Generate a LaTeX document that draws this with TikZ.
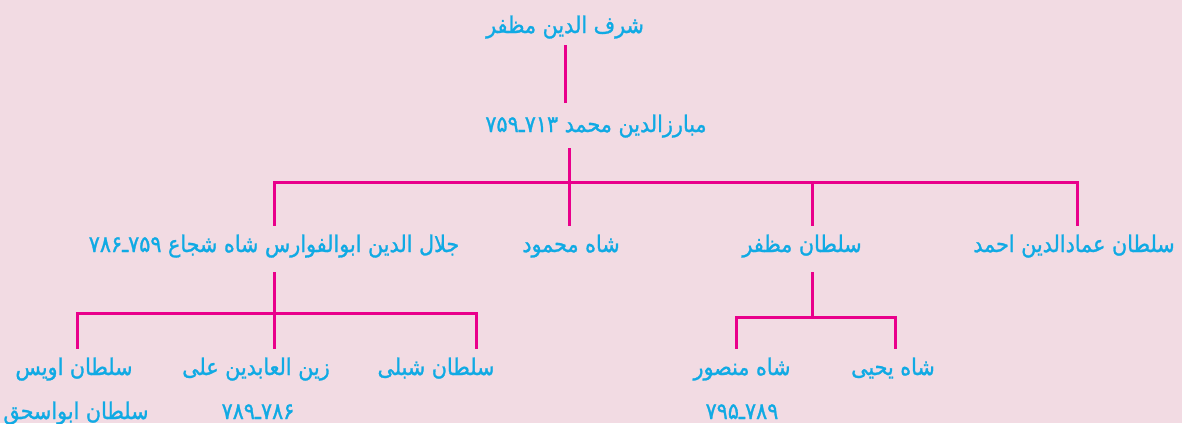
\documentclass[tikz,border=0pt]{standalone}
\usepackage{fontspec}
\newfontfamily\arabicfont[Script=Arabic, FakeBold=1.2]{DejaVu Sans Condensed}
\TeXXeTstate=1
\definecolor{bgpink}{RGB}{242,219,227}
\definecolor{namecyan}{RGB}{16,170,228}
\definecolor{linkmag}{RGB}{233,0,139}
\newcommand{\fa}[1]{\beginR #1\endR}
\tikzset{
  person/.style={anchor=base, inner sep=0pt, text height=13pt, text depth=6pt,
    text=namecyan, font=\arabicfont\fontsize{11.5}{13}\selectfont},
  link/.style={draw=linkmag, line width=1.5pt}
}
\begin{document}
\begin{tikzpicture}[x=0.5pt, y=-0.5pt]
\useasboundingbox (0,0) rectangle (1182,423);
\fill[bgpink] (0,0) rectangle (1182,423);
\node[person] (shrf) at (565,33){\fa{شرف الدین مظفر}};
\node[person, text height=14.5pt, text depth=8pt] (mbrz) at (596,132){\fa{مبارزالدین محمد ۷۱۳ـ۷۵۹}};
\node[person, text depth=10pt] (jll) at (274,252){\fa{جلال الدین ابوالفوارس شاه شجاع ۷۵۹ـ۷۸۶}};
\node[person, text depth=10pt] (mhmd) at (571,252){\fa{شاه محمود}};
\node[person, text depth=10pt] (mzfr) at (802,252){\fa{سلطان مظفر}};
\node[person, text depth=10pt] (emad) at (1074,252){\fa{سلطان عمادالدین احمد}};
\node[person] (ovys) at (74,375){\fa{سلطان اویس}};
\node[person] (ishq) at (76,419){\fa{سلطان ابواسحق}};
\node[person] (zyn) at (256,375){\fa{زین العابدین علی}};
\node[person] (zynd) at (258,419){\fa{۷۸۶ـ۷۸۹}};
\node[person] (shbl) at (436,375){\fa{سلطان شبلی}};
\node[person] (mnsr) at (742,375){\fa{شاه منصور}};
\node[person] (mnsrd) at (742,419){\fa{۷۸۹ـ۷۹۵}};
\node[person] (yhya) at (893,375){\fa{شاه یحیی}};
\coordinate (hub) at (569,182);
\coordinate (mzt) at (812,317);
\coordinate (jl) at (77,313);
\coordinate (jr) at (476,313);
\coordinate (ml) at (736,317);
\coordinate (mr) at (895,317);
\coordinate (er) at (1077,182);
\draw[link](shrf.south) -- (shrf.south |- mbrz.north);
\draw[link](hub |- mbrz.south) -- (hub |- mhmd.north);
\draw[link](jll.north) |- (er) -- (er |- emad.north);
\draw[link](mzt |- hub) -- (mzt |- mzfr.north);
\draw[link](mzt |- mzfr.south) -- (mzt);
\draw[link](ovys.north -| jl) -- (jl) -- (jr) -- (shbl.north -| jr);
\draw[link](jll.south) -- (jll.south |- zyn.north);
\draw[link](mnsr.north -| ml) -- (ml) -- (mr) -- (yhya.north -| mr);
\end{tikzpicture}
\end{document}
